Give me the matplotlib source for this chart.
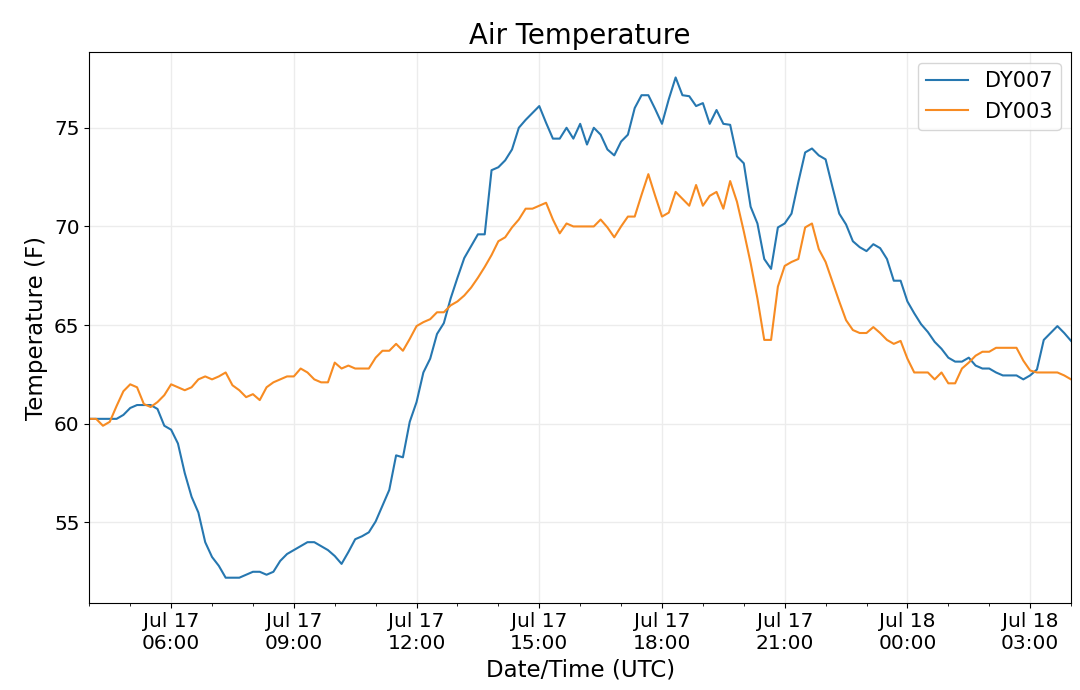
import matplotlib
matplotlib.use("Agg")
import matplotlib.pyplot as plt
import matplotlib.dates as mdates
import pandas as pd

# 10-minute readings, Jul 17 04:00 -> Jul 18 04:00 UTC
START = "2019-07-17 04:00"
STEP = "10min"

dy007 = [
    60.25, 60.25, 60.25, 60.25, 60.25, 60.45, 60.8, 60.95, 60.95, 60.95,
    60.75, 59.9, 59.7, 59.0, 57.5, 56.3, 55.5, 54.0, 53.25, 52.8,
    52.2, 52.2, 52.2, 52.35, 52.5, 52.5, 52.35, 52.5, 53.05, 53.4,
    53.6, 53.8, 54.0, 54.0, 53.8, 53.6, 53.3, 52.9, 53.5, 54.15,
    54.3, 54.5, 55.05, 55.85, 56.65, 58.4, 58.3, 60.1, 61.1, 62.6,
    63.3, 64.55, 65.1, 66.35, 67.4, 68.4, 69.0, 69.6, 69.6, 72.85,
    73.0, 73.35, 73.9, 75.0, 75.4, 75.75, 76.1, 75.25, 74.45, 74.45,
    75.0, 74.45, 75.2, 74.15, 75.0, 74.65, 73.9, 73.6, 74.3, 74.65,
    76.0, 76.65, 76.65, 75.95, 75.2, 76.45, 77.55, 76.65, 76.6, 76.1,
    76.25, 75.2, 75.9, 75.2, 75.15, 73.55, 73.2, 71.0, 70.15, 68.35,
    67.85, 69.95, 70.15, 70.65, 72.25, 73.75, 73.95, 73.6, 73.4, 72.0,
    70.65, 70.1, 69.25, 68.95, 68.75, 69.1, 68.9, 68.35, 67.25, 67.25,
    66.2, 65.6, 65.05, 64.65, 64.15, 63.8, 63.35, 63.15, 63.15, 63.35,
    62.95, 62.8, 62.8, 62.6, 62.45, 62.45, 62.45, 62.25, 62.45, 62.75,
    64.25, 64.6, 64.95, 64.6, 64.2,
]

dy003 = [
    60.25, 60.25, 59.9, 60.1, 60.9, 61.65, 62.0, 61.85, 61.0, 60.85,
    61.1, 61.45, 62.0, 61.85, 61.7, 61.85, 62.25, 62.4, 62.25, 62.4,
    62.6, 61.95, 61.7, 61.35, 61.5, 61.2, 61.85, 62.1, 62.25, 62.4,
    62.4, 62.8, 62.6, 62.25, 62.1, 62.1, 63.1, 62.8, 62.95, 62.8,
    62.8, 62.8, 63.35, 63.7, 63.7, 64.05, 63.7, 64.3, 64.95, 65.15,
    65.3, 65.65, 65.65, 66.0, 66.2, 66.5, 66.9, 67.4, 67.95, 68.55,
    69.25, 69.45, 69.95, 70.35, 70.9, 70.9, 71.05, 71.2, 70.35, 69.65,
    70.15, 70.0, 70.0, 70.0, 70.0, 70.35, 69.95, 69.45, 70.0, 70.5,
    70.5, 71.6, 72.65, 71.55, 70.5, 70.7, 71.75, 71.4, 71.05, 72.1,
    71.05, 71.55, 71.75, 70.9, 72.3, 71.25, 69.75, 68.15, 66.35, 64.25,
    64.25, 66.95, 68.0, 68.2, 68.35, 69.95, 70.15, 68.85, 68.2, 67.2,
    66.2, 65.25, 64.75, 64.6, 64.6, 64.9, 64.6, 64.25, 64.05, 64.2,
    63.3, 62.6, 62.6, 62.6, 62.25, 62.6, 62.05, 62.05, 62.8, 63.1,
    63.45, 63.65, 63.65, 63.85, 63.85, 63.85, 63.85, 63.2, 62.7, 62.6,
    62.6, 62.6, 62.6, 62.45, 62.25,
]

times = pd.date_range(START, periods=len(dy007), freq=STEP)

fig = plt.figure(figsize=(10.8, 6.9), dpi=100)
ax = fig.add_axes([0.0827, 0.1265, 0.909, 0.7975])

ax.plot(times, dy007, color="#2677b0", lw=1.5, label="DY007")
ax.plot(times, dy003, color="#f78b22", lw=1.5, label="DY003")

ax.set_xlim(times[0], times[-1])
ax.xaxis.set_major_locator(mdates.HourLocator(byhour=range(0, 24, 3)))
ax.xaxis.set_minor_locator(mdates.HourLocator())
ax.xaxis.set_major_formatter(mdates.DateFormatter("%b %d\n%H:%M"))

ax.grid(True, color="#ececec", lw=1)
ax.set_axisbelow(True)
ax.tick_params(labelsize=14.5)

ax.set_title("Air Temperature", fontsize=19.8)
ax.set_xlabel("Date/Time (UTC)", fontsize=16.5)
ax.set_ylabel("Temperature (F)", fontsize=16.5)
ax.legend(loc="upper right", fontsize=15)

fig.savefig("out.png", dpi=100, facecolor="white")
